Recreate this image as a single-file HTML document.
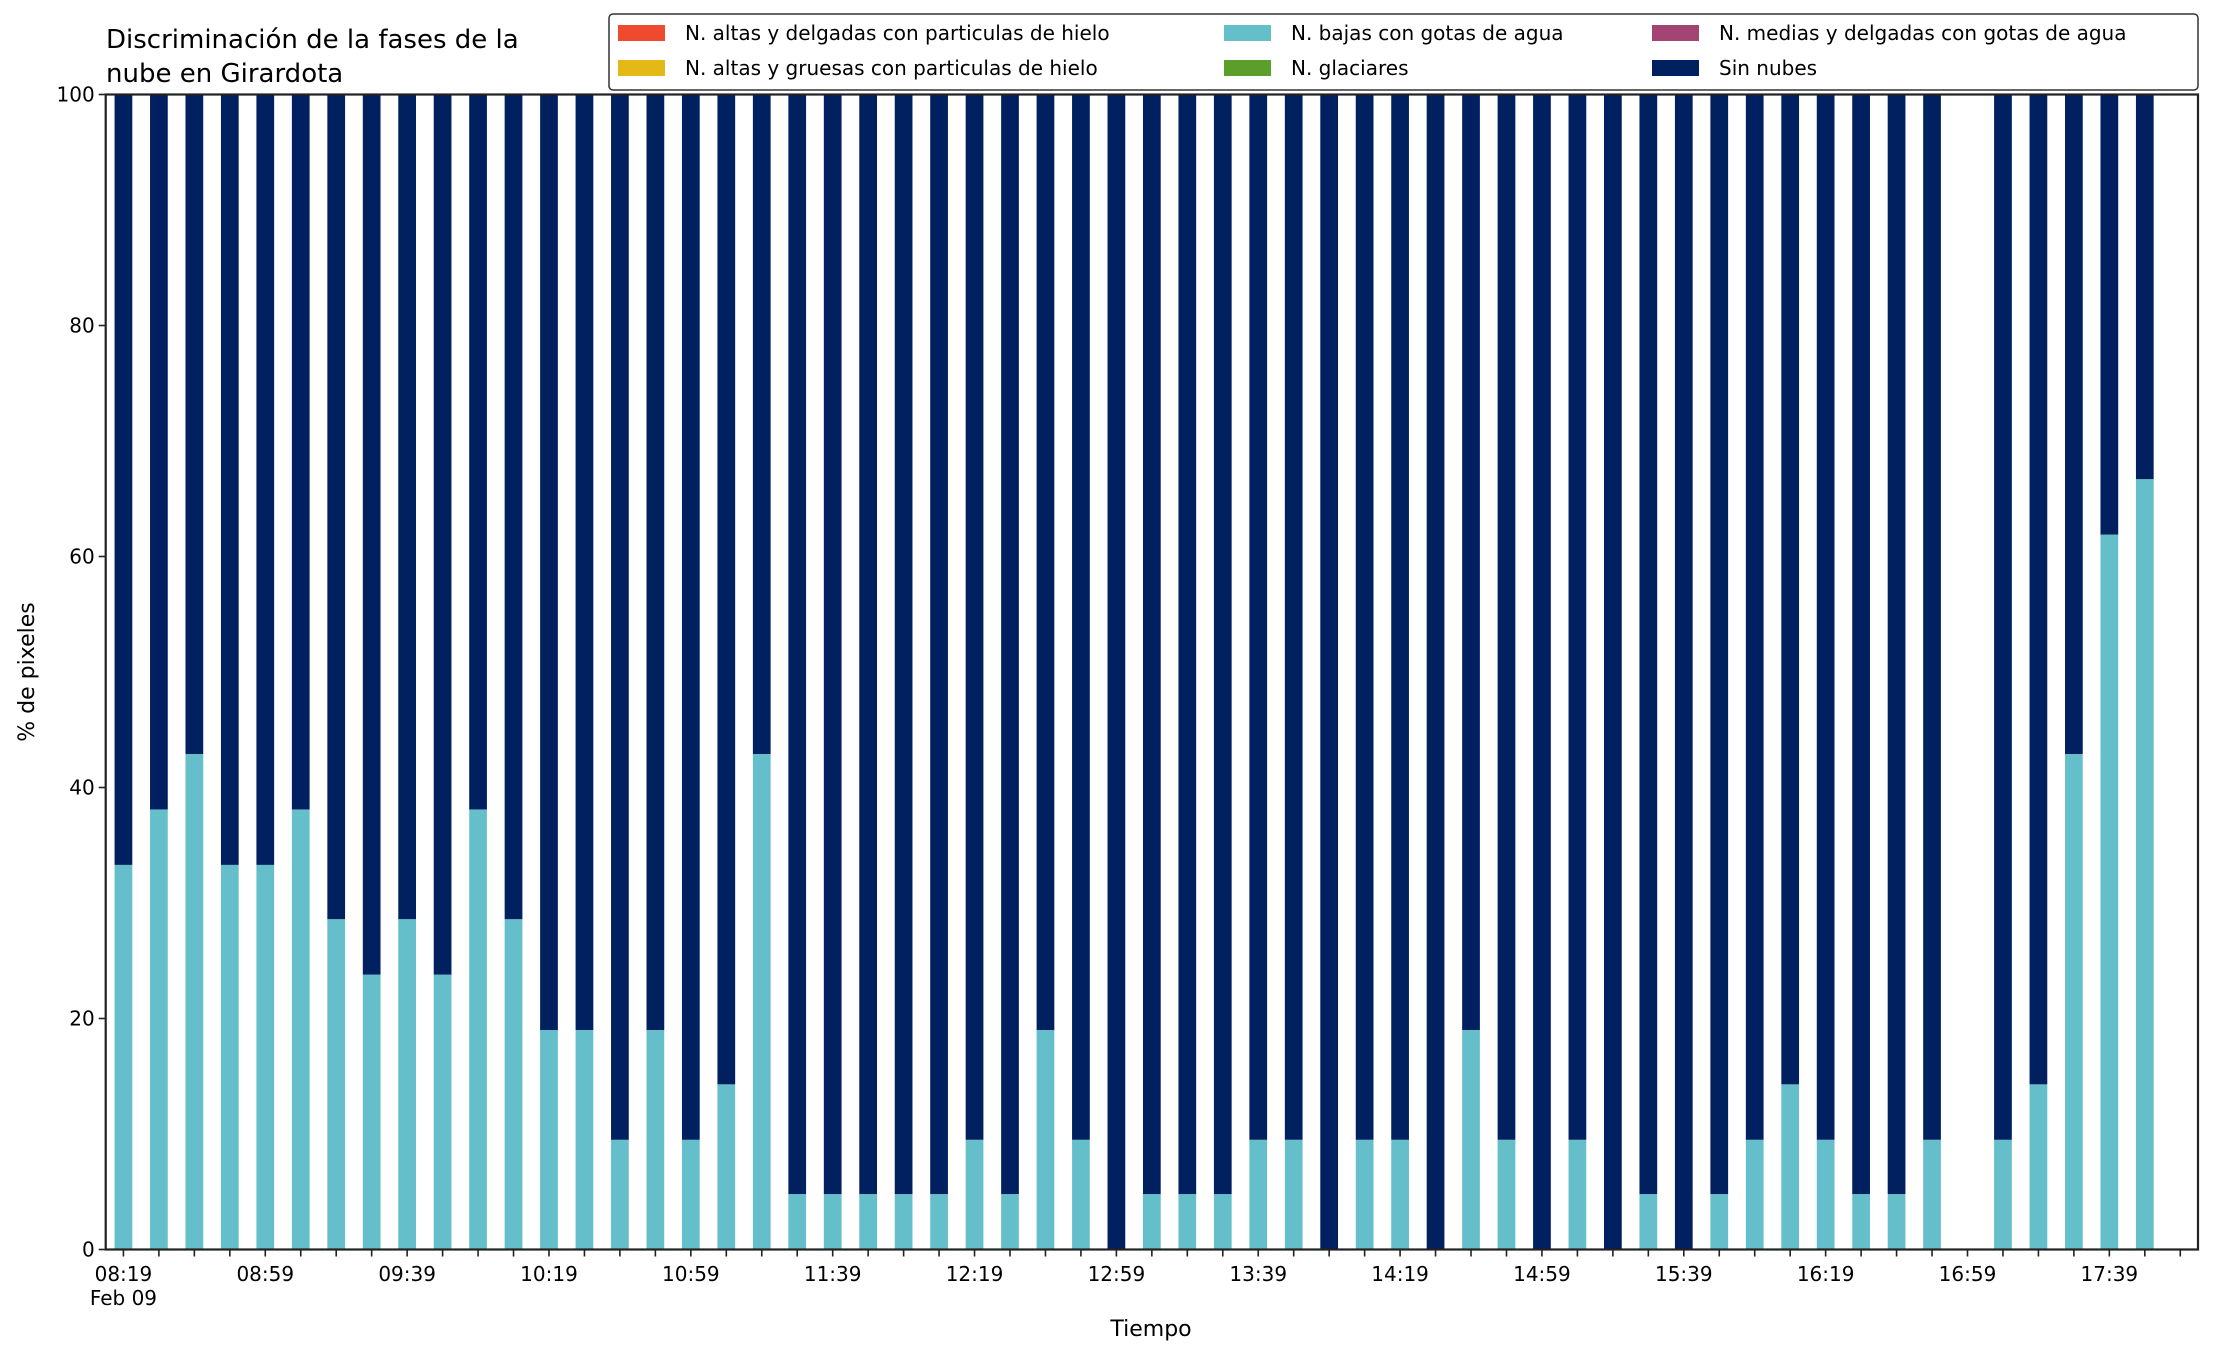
<!DOCTYPE html>
<html><head><meta charset="utf-8"><style>
body{margin:0;background:#fff}
svg{display:block;font-family:"DejaVu Sans","Liberation Sans",sans-serif}
</style></head><body>
<svg id="chart" width="2216" height="1355" viewBox="0 0 2216 1355">
<text x="106" y="48" font-size="26" fill="#000">Discriminación de la fases de la</text>
<text x="106" y="82" font-size="26" fill="#000">nube en Girardota</text>
<g id="bars"></g>
<g id="axes"></g>
<text x="1151" y="1336" font-size="22" text-anchor="middle">Tiempo</text>
<text transform="translate(34,672) rotate(-90)" font-size="22" text-anchor="middle">% de pixeles</text>
<g>
<rect x="609" y="14" width="1589" height="76" rx="4" fill="#fff" stroke="#333" stroke-width="1.5"/>
<g><rect x="618" y="25" width="47" height="16" fill="#F04A2E"/><text x="685" y="40" font-size="20">N. altas y delgadas con particulas de hielo</text></g>
<g><rect x="618" y="60" width="47" height="16" fill="#E3B817"/><text x="685" y="75" font-size="20">N. altas y gruesas con particulas de hielo</text></g>
<g><rect x="1224" y="25" width="47" height="16" fill="#65BFCA"/><text x="1291" y="40" font-size="20">N. bajas con gotas de agua</text></g>
<g><rect x="1224" y="60" width="47" height="16" fill="#5C9E2B"/><text x="1291" y="75" font-size="20">N. glaciares</text></g>
<g><rect x="1652" y="25" width="47" height="16" fill="#A34475"/><text x="1719" y="40" font-size="20">N. medias y delgadas con gotas de agua</text></g>
<g><rect x="1652" y="60" width="47" height="16" fill="#012060"/><text x="1719" y="75" font-size="20">Sin nubes</text></g>
</g>
</svg>
<script>
const categories = ["08:19","08:29","08:39","08:49","08:59","09:09","09:19","09:29","09:39","09:49","09:59","10:09","10:19","10:29","10:39","10:49","10:59","11:09","11:19","11:29","11:39","11:49","11:59","12:09","12:19","12:29","12:39","12:49","12:59","13:09","13:19","13:29","13:39","13:49","13:59","14:09","14:19","14:29","14:39","14:49","14:59","15:09","15:19","15:29","15:39","15:49","15:59","16:09","16:19","16:29","16:39","16:49","16:59","17:09","17:19","17:29","17:39","17:49"];
const bajasValues = [33.3,38.1,42.9,33.3,33.3,38.1,28.6,23.8,28.6,23.8,38.1,28.6,19.0,19.0,9.5,19.0,9.5,14.3,42.9,4.8,4.8,4.8,4.8,4.8,9.5,4.8,19.0,9.5,0,4.8,4.8,4.8,9.5,9.5,0,9.5,9.5,0,19.0,9.5,0,9.5,0,4.8,0,4.8,9.5,14.3,9.5,4.8,4.8,9.5,null,9.5,14.3,42.9,61.9,66.7];
const yTicks = [0,20,40,60,80,100];
const xTickLabels = ["08:19","08:59","09:39","10:19","10:59","11:39","12:19","12:59","13:39","14:19","14:59","15:39","16:19","16:59","17:39"];

const NS="http://www.w3.org/2000/svg";
const L=105.7,R=2198,T=94.5,B=1249.5;
const xmin=-0.5,xmax=58.5;
function xs(i){return L+(i-xmin)/(xmax-xmin)*(R-L);}
function ys(v){return B-v/100*(B-T);}
const unit=(R-L)/(xmax-xmin);
function mk(tag,attrs,parent){const e=document.createElementNS(NS,tag);for(const k in attrs)e.setAttribute(k,attrs[k]);parent.appendChild(e);return e;}
const bars=document.getElementById('bars');
bajasValues.forEach((v,i)=>{
  if(v===null)return;
  const x=xs(i)-unit*0.25,w=unit*0.5;
  const b=mk('rect',{x:x,y:ys(v),width:w,height:ys(0)-ys(v),fill:'#65BFCA'},bars);
  
  
  const s=mk('rect',{x:x,y:ys(100),width:w,height:ys(v)-ys(100),fill:'#012060'},bars);
  
  
});
const ax=document.getElementById('axes');
const frame=mk('rect',{x:L,y:T,width:R-L,height:B-T,fill:'none',stroke:'#222','stroke-width':2.2},ax);


yTicks.forEach(t=>{
  mk('line',{x1:L-7,x2:L,y1:ys(t),y2:ys(t),stroke:'#222','stroke-width':1.6},ax);
  const tx=mk('text',{x:L-11,y:ys(t)+7,'font-size':20,'text-anchor':'end'},ax);
  tx.textContent=t;
  
  
});
for(let i=0;i<=58;i++){
  mk('line',{x1:xs(i),x2:xs(i),y1:B,y2:B+7,stroke:'#222','stroke-width':1.6},ax);
}
xTickLabels.forEach((lab,k)=>{
  const tx=mk('text',{x:xs(k*4),y:1281,'font-size':20,'text-anchor':'middle'},ax);
  tx.textContent=lab;
  
  
});
const feb=mk('text',{x:xs(0),y:1305,'font-size':20,'text-anchor':'middle'},ax);
feb.textContent='Feb 09';


</script>
</body></html>
